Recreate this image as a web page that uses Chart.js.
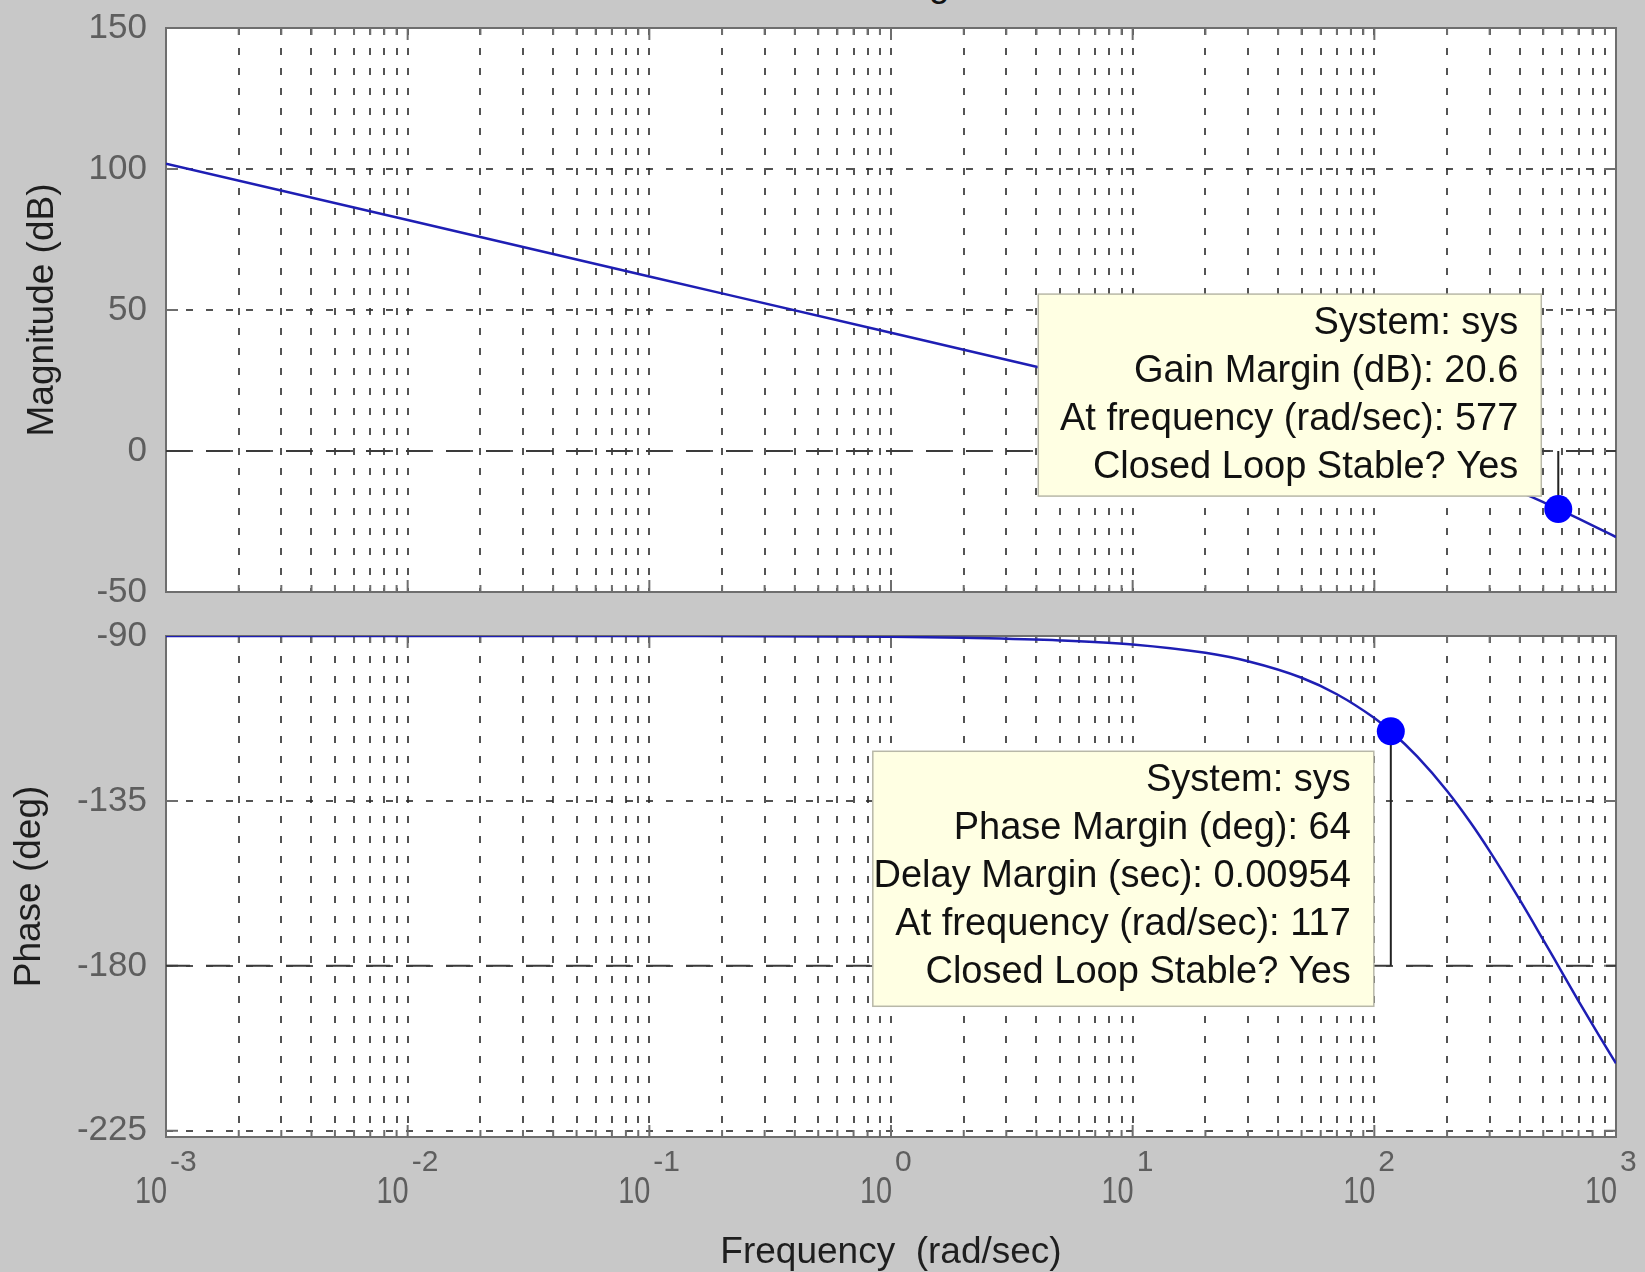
<!DOCTYPE html>
<html>
<head>
<meta charset="utf-8">
<title>Bode Diagram</title>
<script src="https://cdn.jsdelivr.net/npm/chart.js@4.4.1/dist/chart.umd.min.js"></script>
<style>
  html, body { margin:0; padding:0; background:#c8c8c8; width:1645px; height:1272px; overflow:hidden; }
  #wrap { position:relative; width:1645px; height:1272px; overflow:hidden; }
  canvas { position:absolute; left:0; }
  #magChart   { top:-22px; }
  #phaseChart { top:586px; }
  #title {
    position:absolute; left:895px; top:-35px; transform:translateX(-50%);
    font:37px "Liberation Sans", Arial, sans-serif; line-height:37px; color:#111; white-space:nowrap;
  }
</style>
</head>
<body>
<div id="wrap">
  <div id="title">Bode Diagram</div>
  <canvas id="magChart" width="1645" height="664"></canvas>
  <canvas id="phaseChart" width="1645" height="686"></canvas>
</div>
<script>
// ── Data ──────────────────────────────────────────────────────────────────────
const FREQ      = [0.001, 0.01, 0.1, 1, 2, 5, 10, 20, 30, 50, 70, 100, 117, 150, 200, 250, 300, 400, 500, 577, 700, 850, 1000];
const MAG_DB    = [101.9, 81.9, 61.9, 41.9, 35.9, 27.9, 21.9, 15.9, 12.3, 7.8, 4.8, 1.5, 0.0, -2.5, -5.6, -8.2, -10.6, -14.6, -18.1, -20.6, -24.0, -27.5, -30.5];
const PHASE_DEG = [-90, -90, -90, -90.2, -90.5, -91.2, -92.3, -94.6, -96.9, -101.4, -105.9, -112.4, -116, -122.8, -132.3, -140.9, -148.7, -162, -172.9, -180, -189.6, -199, -206.6];

const DECADES     = [0.001, 0.01, 0.1, 1, 10, 100, 1000];
const DECADE_EXP  = ["-3", "-2", "-1", "0", "1", "2", "3"];
const MINOR_STEPS = [1, 2, 3, 4, 5, 6, 7, 8, 9];
const MAG_TICKS   = [-50, 0, 50, 100, 150];
const PHASE_TICKS = [-225, -180, -135, -90];

const GM_FREQ = 577, GM_DB  = 20.6;
const PM_FREQ = 117, PM_DEG = 64;

const GM_TIP = ["System: sys", "Gain Margin (dB): 20.6", "At frequency (rad/sec): 577", "Closed Loop Stable? Yes"];
const PM_TIP = ["System: sys", "Phase Margin (deg): 64", "Delay Margin (sec): 0.00954", "At frequency (rad/sec): 117", "Closed Loop Stable? Yes"];

// ── Look ──────────────────────────────────────────────────────────────────────
const FONT        = '"Liberation Sans", Arial, sans-serif';
const LINE_BLUE   = "#1e1eb4";
const DOT_BLUE    = "#0000ff";
const GRID_COLOR  = "rgba(40,40,40,0.8)";
const FRAME_COLOR = "#6e6e6e";
const TICK_COLOR  = "#5e5e5e";
const LABEL_COLOR = "#1e1e1e";

const GRID_FREQ = DECADES.flatMap(d => MINOR_STEPS.map(m => m * d)).filter(v => v <= 1000 + 1e-9);

function el(id) { return document.getElementById(id); }
function pts(xs, ys) { return xs.map((x, i) => ({ x, y: ys[i] })); }
function isDecade(v) { const l = Math.log10(v); return Math.abs(l - Math.round(l)) < 1e-9; }

// ── Decorations: white plot box, frame, inner ticks, data tips ───────────────
function drawFrame(chart, yTicks) {
  const { ctx, chartArea: a, scales } = chart;
  ctx.save();
  ctx.strokeStyle = FRAME_COLOR;
  ctx.lineWidth = 2;
  ctx.beginPath();
  GRID_FREQ.forEach(v => {
    const x = scales.x.getPixelForValue(v);
    const len = isDecade(v) ? 12 : 7;
    ctx.moveTo(x, a.top);    ctx.lineTo(x, a.top + len);
    ctx.moveTo(x, a.bottom); ctx.lineTo(x, a.bottom - len);
  });
  yTicks.forEach(v => {
    const y = scales.y.getPixelForValue(v);
    ctx.moveTo(a.left, y);  ctx.lineTo(a.left + 12, y);
    ctx.moveTo(a.right, y); ctx.lineTo(a.right - 12, y);
  });
  ctx.stroke();
  ctx.strokeRect(a.left, a.top, a.right - a.left, a.bottom - a.top);
  ctx.restore();
}

function drawTip(chart, tip) {
  const { ctx, scales } = chart;
  const mx = scales.x.getPixelForValue(tip.x);
  const my = scales.y.getPixelForValue(tip.y);
  const right = mx + tip.dx;
  const top = tip.below ? my + tip.dy : my + tip.dy - tip.h;
  ctx.save();
  ctx.fillStyle = "#ffffe3";
  ctx.strokeStyle = "#b8b8a8";
  ctx.lineWidth = 1.5;
  ctx.fillRect(right - tip.w, top, tip.w, tip.h);
  ctx.strokeRect(right - tip.w, top, tip.w, tip.h);
  ctx.fillStyle = "#111";
  ctx.font = "38px " + FONT;
  ctx.textAlign = "right";
  ctx.textBaseline = "middle";
  tip.lines.forEach((t, i) => ctx.fillText(t, right - 23, top + 29 + i * 48));
  ctx.restore();
}

function drawXLabels(chart) {
  const { ctx, scales, chartArea: a } = chart;
  ctx.save();
  ctx.fillStyle = TICK_COLOR;
  ctx.textBaseline = "alphabetic";
  DECADES.forEach((v, i) => {
    const x = scales.x.getPixelForValue(v);
    ctx.save();
    ctx.translate(x + 1, a.bottom + 66);
    ctx.scale(0.78, 1);
    ctx.font = "37px " + FONT;
    ctx.textAlign = "right";
    ctx.fillText("10", 0, 0);
    ctx.restore();
    ctx.font = "30px " + FONT;
    ctx.textAlign = "left";
    ctx.fillText(DECADE_EXP[i], x + 4, a.bottom + 34);
  });
  ctx.restore();
}

function decor(opts) {
  return {
    id: "decor",
    beforeDraw(chart) {
      const { ctx, chartArea: a } = chart;
      ctx.save();
      ctx.fillStyle = "#fff";
      ctx.fillRect(a.left, a.top, a.right - a.left, a.bottom - a.top);
      ctx.restore();
    },
    beforeDatasetsDraw(chart) { drawFrame(chart, opts.yTicks); },
    afterDraw(chart) {
      if (opts.tip) drawTip(chart, opts.tip);
      if (opts.xLabels) drawXLabels(chart);
    }
  };
}

// ── Shared scale pieces ───────────────────────────────────────────────────────
function xScale(extra) {
  return Object.assign({
    type: "logarithmic", min: 0.001, max: 1000,
    afterBuildTicks: s => { s.ticks = GRID_FREQ.map(v => ({ value: v })); },
    afterFit: s => { s.height = 0; },
    ticks: { display: false },
    grid: { color: GRID_COLOR, lineWidth: 2, drawTicks: false },
    border: { display: false, dash: [7, 13] }
  }, extra || {});
}
function yScale(min, max, ticks, title, titlePad) {
  return {
    min, max,
    afterBuildTicks: s => { s.ticks = ticks.map(v => ({ value: v })); },
    afterFit: s => { s.width = 166; },
    ticks: { font: { family: FONT, size: 35 }, color: TICK_COLOR, padding: 19 },
    grid: { color: GRID_COLOR, lineWidth: 2, drawTicks: false },
    border: { display: false, dash: [7, 13] },
    title: { display: true, text: title, color: LABEL_COLOR, font: { family: FONT, size: 37 }, padding: { top: titlePad, bottom: 0 } }
  };
}
const baseOpts = {
  responsive: false, animation: false,
  plugins: { legend: { display: false }, tooltip: { enabled: false } },
  elements: { point: { radius: 0 }, line: { tension: 0 } }
};

// ── Magnitude ─────────────────────────────────────────────────────────────────
new Chart(el("magChart"), {
  type: "line",
  data: {
    datasets: [
      { label: "GM point", data: [{ x: GM_FREQ, y: -GM_DB }], showLine: false, pointRadius: 14, pointBackgroundColor: DOT_BLUE, pointBorderWidth: 0 },
      { label: "Magnitude", data: pts(FREQ, MAG_DB), borderColor: LINE_BLUE, borderWidth: 2.5, cubicInterpolationMode: "monotone" },
      { label: "GM line", data: [{ x: GM_FREQ, y: 0 }, { x: GM_FREQ, y: -GM_DB }], borderColor: "#222", borderWidth: 2 },
      { label: "0 dB", data: [{ x: 0.001, y: 0 }, { x: 1000, y: 0 }], borderColor: "#3a3a3a", borderWidth: 2, borderDash: [24, 16] }
    ]
  },
  options: Object.assign({}, baseOpts, {
    layout: { padding: { top: 50, right: 29, bottom: 50, left: 0 } },
    scales: { x: xScale(), y: yScale(-50, 150, MAG_TICKS, "Magnitude (dB)", 21) }
  }),
  plugins: [decor({ yTicks: MAG_TICKS, tip: { x: GM_FREQ, y: -GM_DB, dx: -17, dy: -13, w: 503, h: 202, below: false, lines: GM_TIP } })]
});

// ── Phase ─────────────────────────────────────────────────────────────────────
new Chart(el("phaseChart"), {
  type: "line",
  data: {
    datasets: [
      { label: "PM point", data: [{ x: PM_FREQ, y: PM_DEG - 180 }], showLine: false, pointRadius: 14, pointBackgroundColor: DOT_BLUE, pointBorderWidth: 0 },
      { label: "Phase", data: pts(FREQ, PHASE_DEG), borderColor: LINE_BLUE, borderWidth: 2.5, cubicInterpolationMode: "monotone" },
      { label: "PM line", data: [{ x: PM_FREQ, y: -180 }, { x: PM_FREQ, y: PM_DEG - 180 }], borderColor: "#222", borderWidth: 2 },
      { label: "-180", data: [{ x: 0.001, y: -180 }, { x: 1000, y: -180 }], borderColor: "#3a3a3a", borderWidth: 2, borderDash: [24, 16] }
    ]
  },
  options: Object.assign({}, baseOpts, {
    layout: { padding: { top: 50, right: 29, bottom: 0, left: 0 } },
    scales: {
      x: xScale({
        afterFit: s => { s.height = 135; },
        title: { display: true, text: "Frequency  (rad/sec)", color: LABEL_COLOR, font: { family: FONT, size: 37 }, padding: { top: 0, bottom: -3 } }
      }),
      y: yScale(-226.7, -90, PHASE_TICKS, "Phase (deg)", 8)
    }
  }),
  plugins: [decor({ yTicks: PHASE_TICKS, xLabels: true, tip: { x: PM_FREQ, y: PM_DEG - 180, dx: -17, dy: 20, w: 501, h: 255, below: true, lines: PM_TIP } })]
});
</script>
</body>
</html>
